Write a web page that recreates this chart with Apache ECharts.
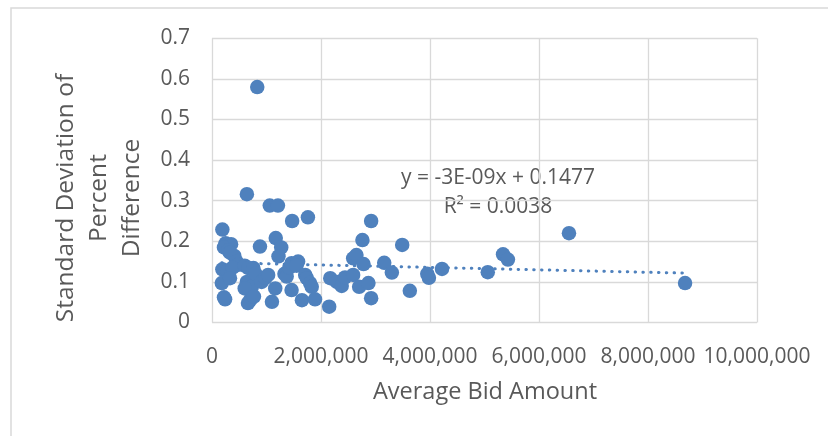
<!DOCTYPE html>
<html>
<head>
<meta charset="utf-8">
<script src="https://cdn.jsdelivr.net/npm/echarts@6/dist/echarts.min.js"></script>
<style>
html,body{margin:0;padding:0;background:#fff;}
#c{width:828px;height:436px;}
</style>
</head>
<body>
<div id="c"></div>
<script>
// Average Bid Amount (in dollars)
const bidAmounts = [
  190000, 250000, 350000, 220000, 300000, 410000, 330000, 450000, 480000, 190000,
  280000, 380000, 180000, 330000, 240000, 220000, 640000, 830000, 600000, 670000,
  760000, 640000, 730000, 600000, 700000, 660000, 770000, 800000, 880000, 910000,
  980000, 1030000, 1060000, 1210000, 1170000, 1270000, 1220000, 1160000, 1100000, 1330000,
  1370000, 1420000, 1460000, 1460000, 1470000, 1580000, 1550000, 1650000, 1710000, 1740000,
  1760000, 1800000, 1830000, 1890000, 2150000, 2170000, 2290000, 2380000, 2440000, 2590000,
  2590000, 2650000, 2760000, 2780000, 2700000, 2870000, 2920000, 2920000, 3160000, 3300000,
  3490000, 3630000, 3950000, 3980000, 4220000, 5060000, 5340000, 5430000, 6550000, 8680000
];
// Standard deviation of percent difference
const stdDevs = [
  0.229, 0.195, 0.193, 0.185, 0.178, 0.164, 0.172, 0.150, 0.142, 0.131,
  0.128, 0.135, 0.097, 0.109, 0.057, 0.062, 0.316, 0.580, 0.140, 0.134,
  0.134, 0.100, 0.088, 0.084, 0.055, 0.048, 0.064, 0.120, 0.187, 0.100,
  0.110, 0.117, 0.288, 0.288, 0.208, 0.185, 0.163, 0.084, 0.051, 0.120,
  0.113, 0.135, 0.146, 0.080, 0.250, 0.150, 0.140, 0.055, 0.117, 0.109,
  0.259, 0.097, 0.088, 0.057, 0.039, 0.109, 0.100, 0.090, 0.111, 0.117,
  0.158, 0.166, 0.203, 0.144, 0.088, 0.097, 0.250, 0.060, 0.147, 0.123,
  0.191, 0.078, 0.120, 0.110, 0.132, 0.124, 0.168, 0.155, 0.220, 0.097
];
// Trendline as printed on the chart
const trendSlope = -3e-9;
const trendIntercept = 0.1477;
const equationLines = ['y = -3E-09x + 0.1477', 'R² = 0.0038'];
const xTitle = 'Average Bid Amount';
const yTitleLines = ['Standard Deviation of', 'Percent', 'Difference'];

const points = bidAmounts.map((x, i) => [x, stdDevs[i]]);
const xMin = Math.min(...bidAmounts), xMax = Math.max(...bidAmounts);
const trend = [[xMin, trendSlope * xMin + trendIntercept], [xMax, trendSlope * xMax + trendIntercept]];

const FONT = '"Open Sans", "Noto Sans", sans-serif';
const TXT = '#595959';
const GRID = '#d9d9d9';
const BLUE = '#4F81BD';

const chart = echarts.init(document.getElementById('c'));
chart.setOption({
  backgroundColor: '#fff',
  animation: false,
  grid: {left: 212, right: 71, top: 38.3, bottom: 113.5},
  xAxis: {
    type: 'value', min: 0, max: 10000000, interval: 2000000,
    axisLine: {show: false}, axisTick: {show: false},
    splitLine: {show: true, lineStyle: {color: GRID, width: 1.3}},
    axisLabel: {color: TXT, fontFamily: FONT, fontSize: 21, margin: 24,
      formatter: v => v.toLocaleString('en-US')}
  },
  yAxis: {
    type: 'value', min: 0, max: 0.7, interval: 0.1,
    axisLine: {show: false}, axisTick: {show: false},
    splitLine: {show: true, lineStyle: {color: GRID, width: 1.3}},
    axisLabel: {color: TXT, fontFamily: FONT, fontSize: 21, margin: 22,
      formatter: v => String(Math.round(v * 10) / 10)}
  },
  graphic: [
    {type: 'rect', silent: true, z: -10, shape: {x: 11, y: 8, width: 900, height: 600},
      style: {fill: 'none', stroke: GRID, lineWidth: 1.5}},
    {type: 'text', x: 485, y: 392, style: {text: xTitle, fill: TXT, font: '23.5px ' + FONT,
      textAlign: 'center', textVerticalAlign: 'middle'}},
    {type: 'text', x: 99, y: 198, rotation: Math.PI / 2, style: {text: yTitleLines.join('\n'), fill: TXT,
      font: '24.5px ' + FONT, textAlign: 'center', textVerticalAlign: 'middle', lineHeight: 33}},
    {type: 'text', x: 498, y: 193, style: {text: equationLines.join('\n'), fill: TXT,
      font: '21px ' + FONT, textAlign: 'center', textVerticalAlign: 'middle', lineHeight: 29}}
  ],
  series: [
    {type: 'line', data: trend, symbol: 'none', z: 2,
      lineStyle: {color: BLUE, width: 3, type: [0.5, 7.3], cap: 'round'}},
    {type: 'scatter', data: points, symbol: 'circle', symbolSize: 14.5, z: 3,
      itemStyle: {color: BLUE, opacity: 1}}
  ]
});
</script>
</body>
</html>
